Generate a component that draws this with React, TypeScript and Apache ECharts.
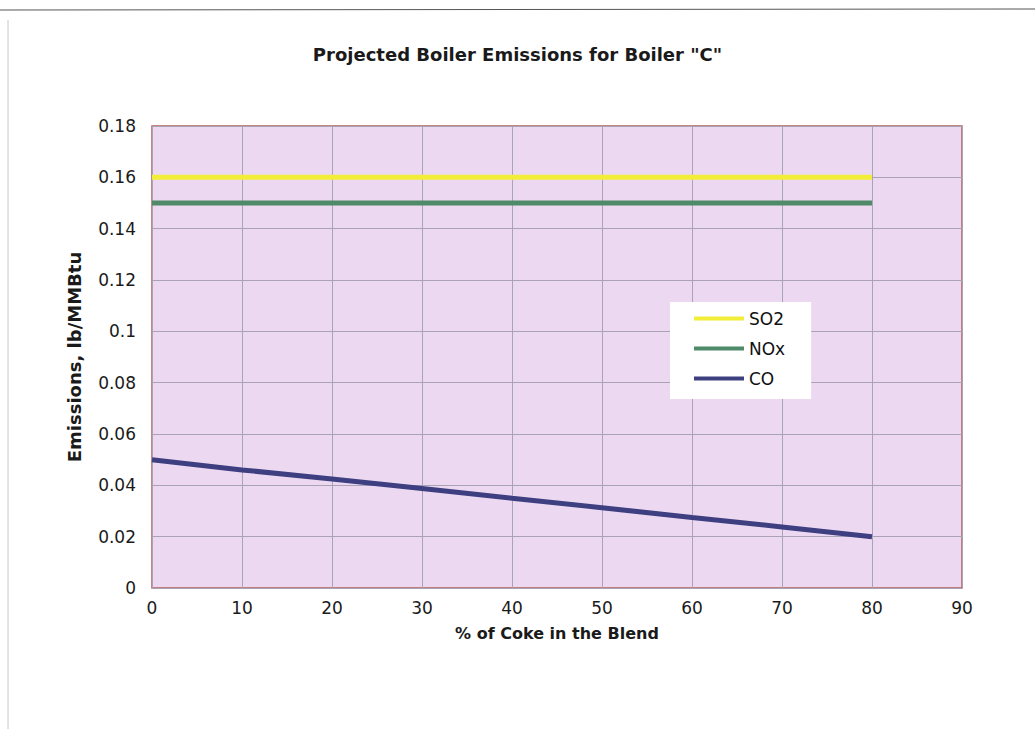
import React, { useEffect, useRef } from 'react';
import * as echarts from 'echarts';

const cokePct = [0, 10, 20, 30, 40, 50, 60, 70, 80];
const so2 = [0.16, 0.16, 0.16, 0.16, 0.16, 0.16, 0.16, 0.16, 0.16];
const nox = [0.15, 0.15, 0.15, 0.15, 0.15, 0.15, 0.15, 0.15, 0.15];
const co = [0.05, 0.046, 0.0425, 0.0388, 0.035, 0.0313, 0.0275, 0.0238, 0.02];

const pairs = (ys: number[]) => cokePct.map((x, i) => [x, ys[i]]);

const font = '"DejaVu Sans", Arial, sans-serif';

const App: React.FC = () => {
  const chartRef = useRef<HTMLDivElement>(null);

  useEffect(() => {
    document.body.style.margin = '0';
    if (!chartRef.current) return;
    const myChart = echarts.init(chartRef.current, undefined, { renderer: 'svg' });

    const lineSeries = (name: string, data: number[], color: string) => ({
      name,
      type: 'line' as const,
      data: pairs(data),
      symbol: 'none',
      lineStyle: { color, width: 5 },
      itemStyle: { color },
    });

    const option: echarts.EChartsOption = {
      animation: false,
      backgroundColor: '#ffffff',
      title: {
        text: 'Projected Boiler Emissions for Boiler "C"',
        left: 'center',
        top: 40,
        textStyle: { fontFamily: font, fontSize: 18, fontWeight: 'bold', color: '#1a1a1a' },
      },
      grid: {
        left: 152,
        top: 126,
        right: 73,
        bottom: 141,
        show: true,
        backgroundColor: '#ecd9f1',
        borderColor: '#b0605a',
        borderWidth: 1.5,
      },
      legend: {
        orient: 'vertical',
        left: 670,
        top: 302,
        backgroundColor: '#ffffff',
        padding: [8, 26, 12, 24],
        itemGap: 13,
        itemWidth: 50,
        itemHeight: 4,
        icon: 'rect',
        textStyle: { fontFamily: font, fontSize: 17, color: '#111' },
        data: ['SO2', 'NOx', 'CO'],
      },
      xAxis: {
        type: 'value',
        min: 0,
        max: 90,
        interval: 10,
        name: '% of Coke in the Blend',
        nameLocation: 'middle',
        nameGap: 37,
        nameTextStyle: { fontFamily: font, fontSize: 16, fontWeight: 'bold', color: '#1a1a1a' },
        axisLine: { show: false },
        axisTick: { show: false },
        axisLabel: { fontFamily: font, fontSize: 17, color: '#1a1a1a', margin: 11 },
        splitLine: { show: true, lineStyle: { color: '#aaa3b6', width: 1 } },
      },
      yAxis: {
        type: 'value',
        min: 0,
        max: 0.18,
        interval: 0.02,
        name: 'Emissions, lb/MMBtu',
        nameLocation: 'middle',
        nameGap: 69,
        nameTextStyle: { fontFamily: font, fontSize: 18, fontWeight: 'bold', color: '#1a1a1a' },
        axisLine: { show: false },
        axisTick: { show: false },
        axisLabel: {
          fontFamily: font,
          fontSize: 17,
          color: '#1a1a1a',
          margin: 16,
          formatter: (v: number) => String(Number(v.toFixed(2))),
        },
        splitLine: { show: true, lineStyle: { color: '#aaa3b6', width: 1 } },
      },
      graphic: [
        { type: 'line', shape: { x1: 0, y1: 10, x2: 1035, y2: 9 }, style: { stroke: '#555', lineWidth: 1 } },
        { type: 'line', shape: { x1: 8, y1: 20, x2: 8, y2: 729 }, style: { stroke: '#c8c8c8', lineWidth: 1 } },
      ],
      series: [
        lineSeries('SO2', so2, '#f2ee38'),
        lineSeries('NOx', nox, '#4f8a69'),
        lineSeries('CO', co, '#3e3f80'),
      ],
    };

    myChart.setOption(option);
    return () => {
      myChart.dispose();
    };
  }, []);

  return <div ref={chartRef} style={{ width: '1035px', height: '729px' }} />;
};

export default App;
